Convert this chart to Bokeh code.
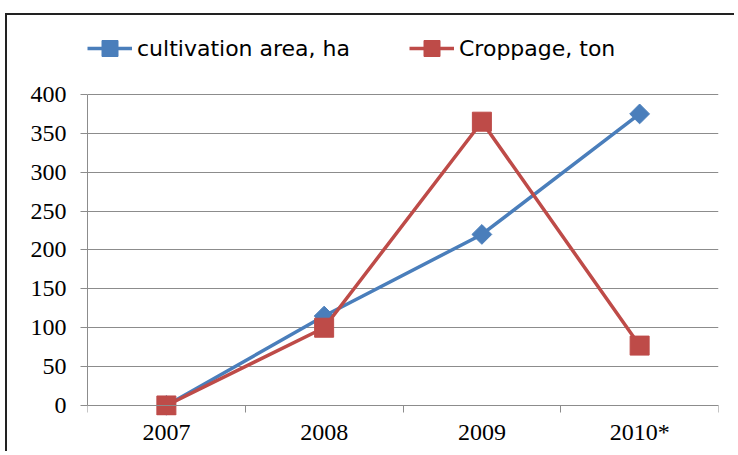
import math
from bokeh.plotting import figure
from bokeh.models import Range1d, FixedTicker, Legend, LegendItem, LinearAxis
from bokeh.embed import file_html
from bokeh.resources import INLINE

categories = ["2007", "2008", "2009", "2010*"]
cultivation_area = [0, 115, 220, 375]
croppage = [0, 100, 365, 77]
y_ticks = [0, 50, 100, 150, 200, 250, 300, 350, 400]

x_pos = [i + 0.5 for i in range(len(categories))]
boundaries = list(range(len(categories) + 1))

p = figure(width=729, height=438, output_backend="svg", toolbar_location=None,
           x_range=Range1d(0, len(categories)), y_range=Range1d(-12.9, 501.6),
           min_border_left=80, min_border_right=18, min_border_top=0, min_border_bottom=38)
p.styles = {"margin-top": "13px", "margin-left": "5px",
            "border-left": "2px solid #222222", "border-top": "2px solid #222222"}
p.outline_line_color = None
p.background_fill_color = "white"
p.border_fill_color = "white"

grid_color = "#8c8c8c"

# x axis: labels only (at frame bottom)
xa = p.xaxis[0]
xa.ticker = FixedTicker(ticks=x_pos, minor_ticks=[])
xa.major_label_overrides = {x: c for x, c in zip(x_pos, categories)}
xa.axis_line_color = None
xa.major_tick_line_color = None
xa.minor_tick_line_color = None
xa.major_label_text_font = "Liberation Serif"
xa.major_label_text_font_size = "24px"
xa.major_label_text_color = "black"
xa.major_label_standoff = -3
p.xgrid.visible = False

# x axis line with category boundary ticks, at y = 0
xline = LinearAxis(fixed_location=0, ticker=FixedTicker(ticks=[], minor_ticks=boundaries))
xline.axis_line_color = grid_color
xline.major_tick_line_color = None
xline.minor_tick_out = 7
xline.minor_tick_in = 0
xline.minor_tick_line_color = grid_color
xline.major_label_text_font_size = "0px"
p.add_layout(xline, "below")

# y axis
yt = FixedTicker(ticks=y_ticks)
p.yaxis.ticker = yt
p.yaxis.bounds = (0, 400)
p.ygrid.ticker = yt
p.yaxis.major_tick_out = 7
p.yaxis.major_tick_in = 0
p.yaxis.minor_tick_out = 0
p.yaxis.minor_tick_in = 0
p.yaxis.major_tick_line_color = grid_color
p.yaxis.axis_line_color = grid_color
p.yaxis.major_label_text_font = "Liberation Serif"
p.yaxis.major_label_text_font_size = "24px"
p.yaxis.major_label_text_color = "black"
p.yaxis.major_label_standoff = 14
p.ygrid.grid_line_color = grid_color
p.ygrid.grid_line_width = 1

blue = "#4A7EBB"
red = "#BE4B48"

l1 = p.line(x_pos, cultivation_area, line_color=blue, line_width=3.5)
s1 = p.scatter(x_pos, cultivation_area, marker="square", angle=math.pi / 4, size=14,
               fill_color=blue, line_color=blue)
l2 = p.line(x_pos, croppage, line_color=red, line_width=3.5)
s2 = p.scatter(x_pos, croppage, marker="square", size=19, fill_color=red, line_color=red)

legend = Legend(items=[LegendItem(label="cultivation area, ha", renderers=[l1, s1]),
                       LegendItem(label="Croppage, ton", renderers=[l2, s2])],
                orientation="horizontal", location=(0, 347),
                glyph_width=45, glyph_height=40, label_standoff=5, spacing=59,
                padding=0, margin=0, border_line_color=None, background_fill_alpha=0,
                label_text_font="DejaVu Sans", label_text_font_size="22px",
                label_text_color="black")
p.add_layout(legend)

open("out.html", "w").write(file_html(p, INLINE))
